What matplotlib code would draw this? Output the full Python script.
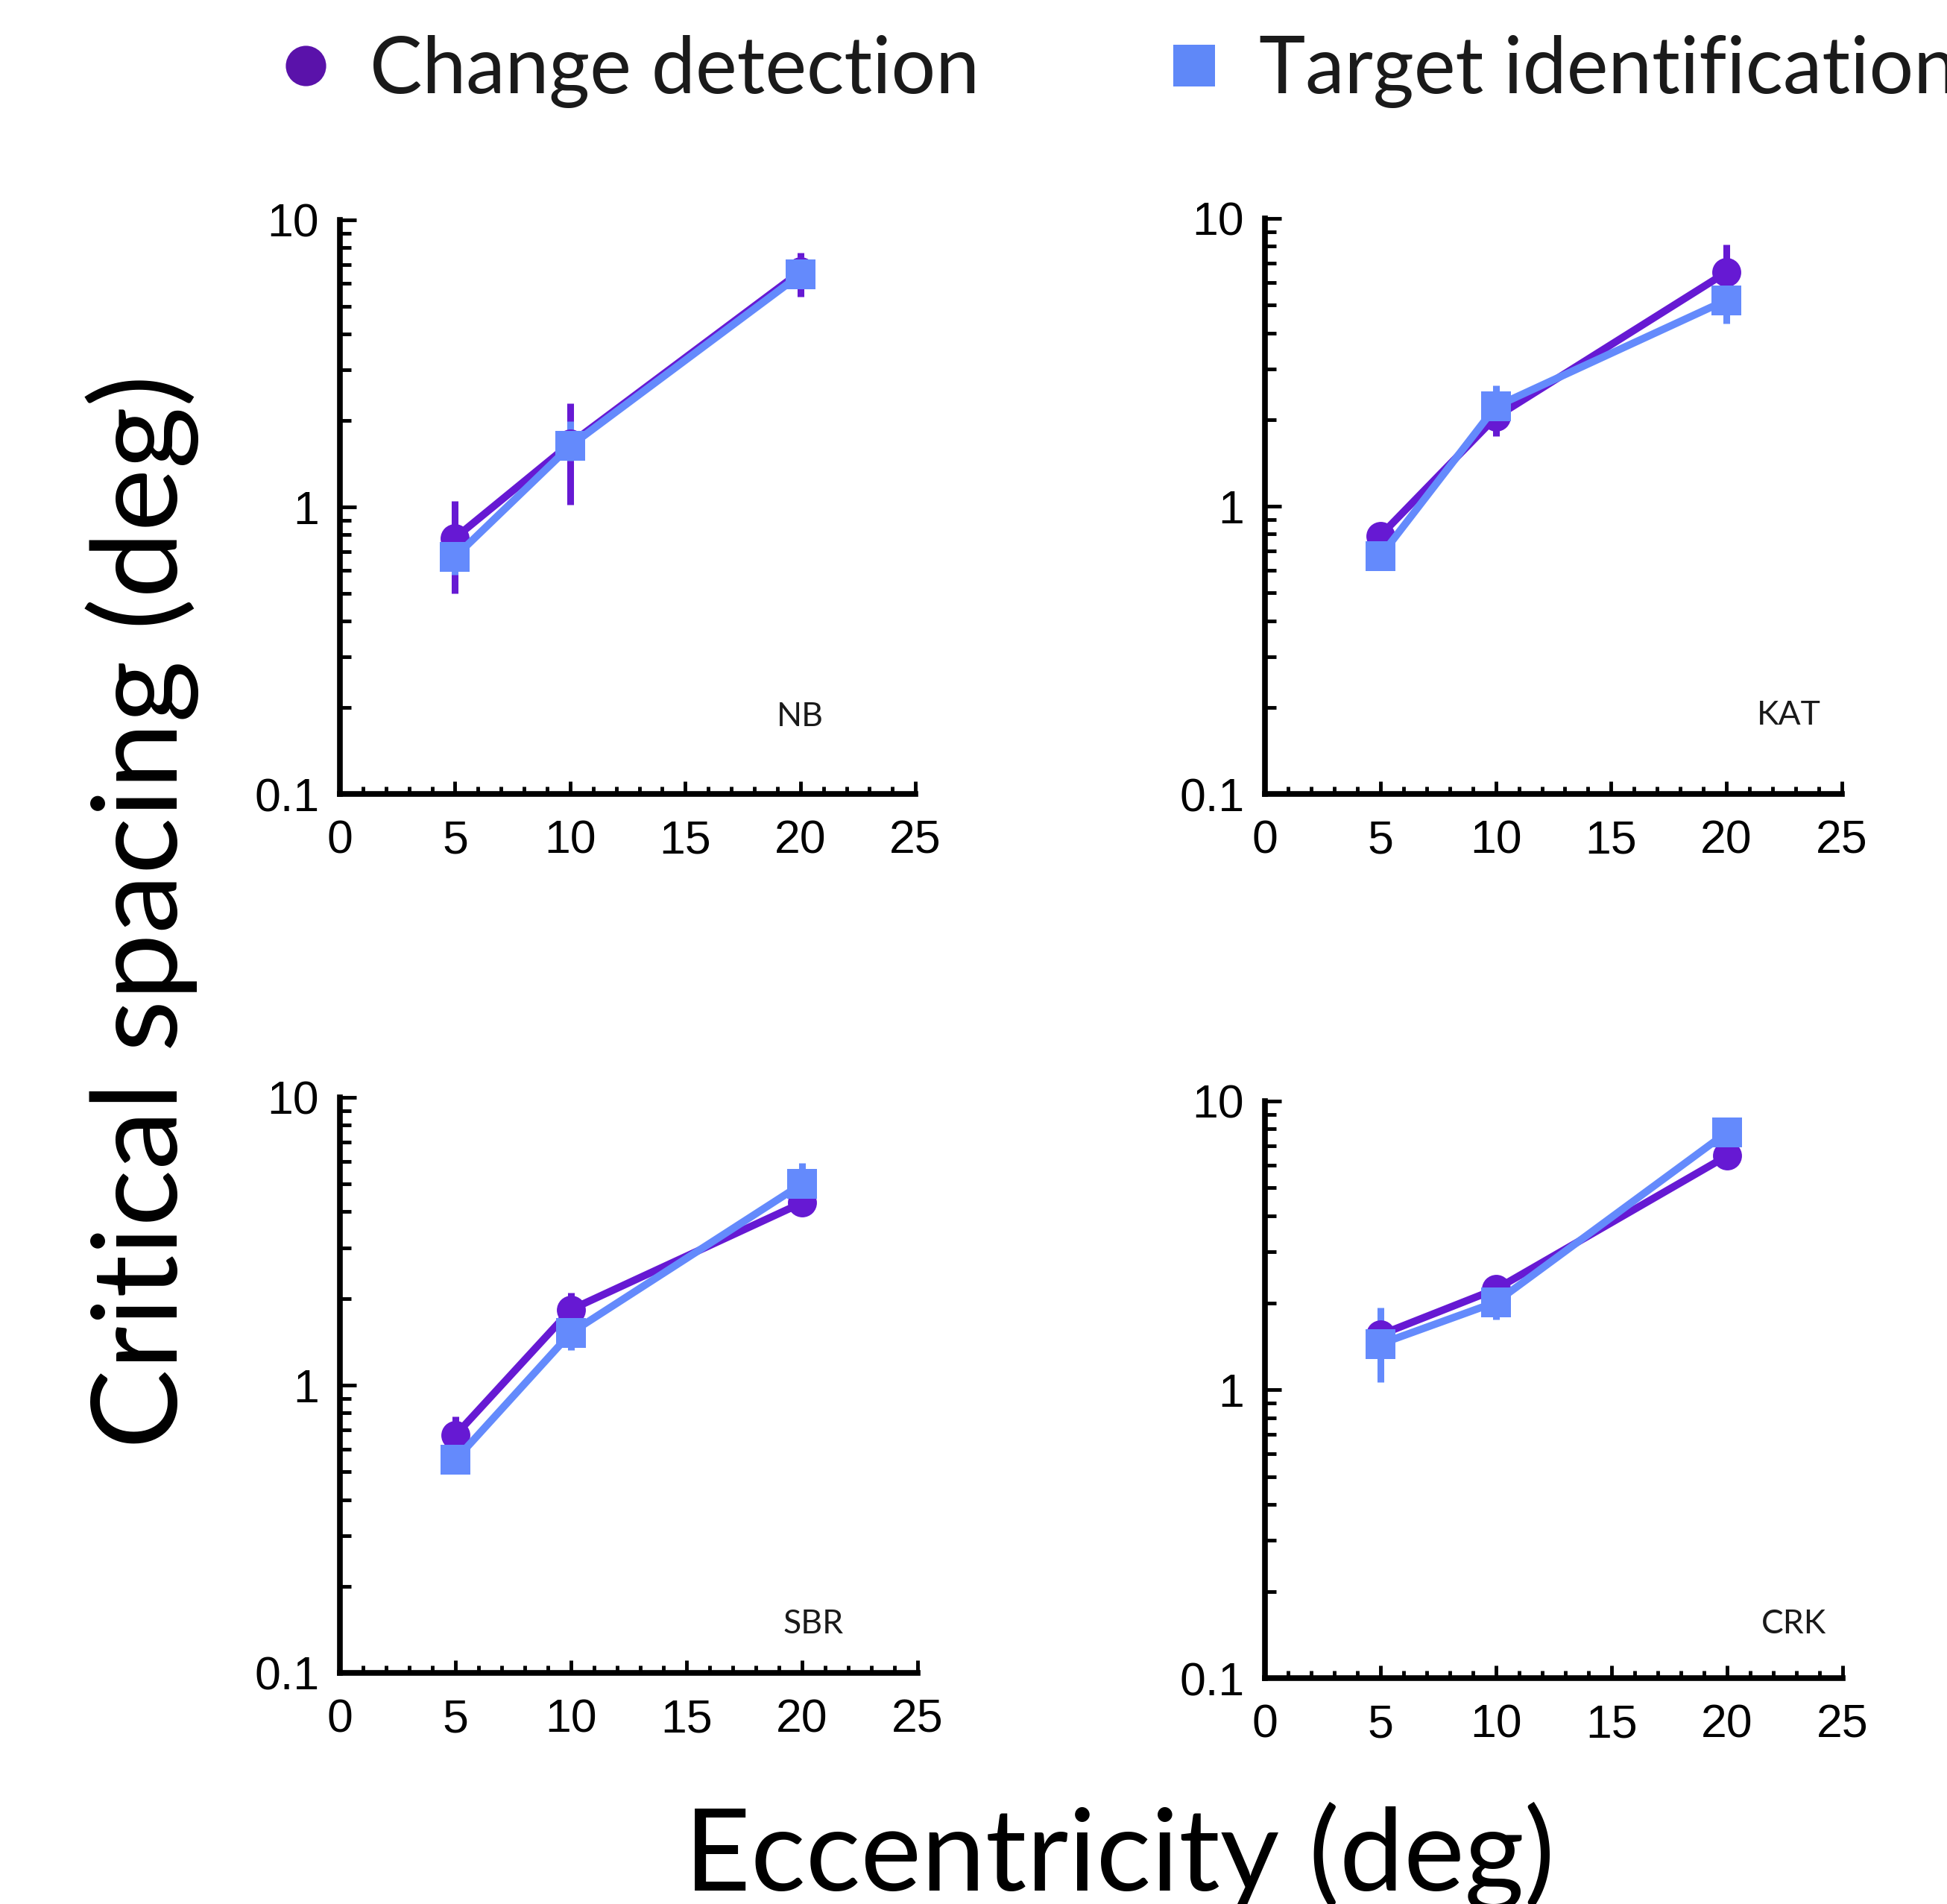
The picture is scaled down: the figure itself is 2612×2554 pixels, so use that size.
import matplotlib
matplotlib.use("Agg")
import matplotlib.pyplot as plt
from matplotlib.lines import Line2D
from matplotlib.ticker import FixedLocator, MultipleLocator, FixedFormatter

# eccentricity (deg)
ecc = [5, 10, 20]

# critical spacing (deg), per observer: mean, lower, upper
subjects = ["NB", "KAT", "SBR", "CRK"]

cd_mean = {
    "NB": [0.78, 1.66, 6.6],
    "KAT": [0.79, 2.04, 6.5],
    "SBR": [0.67, 1.83, 4.3],
    "CRK": [1.55, 2.23, 6.46],
}
cd_lo = {
    "NB": [0.50, 1.02, 5.4],
    "KAT": [0.74, 1.75, 5.8],
    "SBR": [0.60, 1.65, 4.1],
    "CRK": [1.45, 2.05, 6.1],
}
cd_hi = {
    "NB": [1.05, 2.30, 7.7],
    "KAT": [0.84, 2.30, 8.1],
    "SBR": [0.78, 2.10, 4.6],
    "CRK": [1.65, 2.46, 6.8],
}

ti_mean = {
    "NB": [0.67, 1.63, 6.45],
    "KAT": [0.67, 2.22, 5.2],
    "SBR": [0.55, 1.52, 5.0],
    "CRK": [1.44, 2.01, 7.8],
}
ti_lo = {
    "NB": [0.58, 1.45, 5.8],
    "KAT": [0.63, 1.95, 4.3],
    "SBR": [0.52, 1.32, 4.6],
    "CRK": [1.06, 1.75, 7.3],
}
ti_hi = {
    "NB": [0.78, 1.99, 7.4],
    "KAT": [0.71, 2.63, 6.0],
    "SBR": [0.58, 1.70, 5.9],
    "CRK": [1.92, 2.30, 8.3],
}

series_labels = ["Change detection", "Target identification"]
x_ticks = [0, 5, 10, 15, 20, 25]
y_ticks = [0.1, 1, 10]
y_ticklabels = ["0.1", "1", "10"]

PURPLE = "#6619d3"
BLUE = "#648afc"
LEG_PURPLE = "#5a12aa"
LEG_BLUE = "#5f88f8"
TEXT_FONT = ["Lato", "DejaVu Sans"]
TICK_FONT = ["Liberation Sans", "DejaVu Sans"]

fig = plt.figure(figsize=(26.12, 25.54), dpi=100)

# axes boxes in figure fraction (left, bottom, width, height)
boxes = [
    (0.1746, 0.5830, 0.2956, 0.3015),
    (0.6497, 0.5830, 0.2963, 0.3023),
    (0.1746, 0.1214, 0.2967, 0.3023),
    (0.6497, 0.1186, 0.2967, 0.3031),
]
label_pos = [(0.80, 0.135), (0.908, 0.137), (0.82, 0.085), (0.916, 0.094)]


def draw_series(ax, mean, lo, hi, color, marker, ms):
    yerr = [[m - l for m, l in zip(mean, lo)], [h - m for m, h in zip(mean, hi)]]
    ax.errorbar(ecc, mean, yerr=yerr, color=color, marker=marker,
                markersize=ms, linewidth=7.2, elinewidth=6.5, capsize=7.2,
                capthick=7, markeredgewidth=0)


for subj, box, lp in zip(subjects, boxes, label_pos):
    ax = fig.add_axes(box)
    draw_series(ax, cd_mean[subj], cd_lo[subj], cd_hi[subj], PURPLE, "o", 28)
    draw_series(ax, ti_mean[subj], ti_lo[subj], ti_hi[subj], BLUE, "s", 29)

    ax.set_yscale("log")
    ax.set_xlim(0, 25)
    ax.set_ylim(0.1, 10)
    ax.xaxis.set_major_locator(FixedLocator(x_ticks))
    ax.xaxis.set_minor_locator(MultipleLocator(1))
    ax.yaxis.set_major_locator(FixedLocator(y_ticks))
    ax.yaxis.set_major_formatter(FixedFormatter(y_ticklabels))
    ax.yaxis.set_minor_formatter(FixedFormatter([]))

    for side in ("top", "right"):
        ax.spines[side].set_visible(False)
    for side in ("left", "bottom"):
        ax.spines[side].set_linewidth(5.5)
    ax.tick_params(which="both", direction="in", width=3.5)
    ax.tick_params(axis="y", which="major", length=16, pad=20)
    ax.tick_params(axis="y", which="minor", length=11)
    ax.tick_params(axis="x", which="major", length=12, pad=24)
    ax.tick_params(axis="x", which="minor", length=7)
    for lab in ax.get_xticklabels() + ax.get_yticklabels():
        lab.set_fontfamily(TICK_FONT)
        lab.set_fontsize(45)
    ax.patch.set_visible(False)

    ax.text(lp[0], lp[1], subj, transform=ax.transAxes, ha="center",
            va="center", fontsize=32, family=TEXT_FONT, color="#1a1a1a")

handles = [
    Line2D([], [], color=LEG_PURPLE, marker="o", linestyle="none",
           markersize=39, markeredgewidth=0),
    Line2D([], [], color=LEG_BLUE, marker="s", linestyle="none",
           markersize=40, markeredgewidth=0),
]
fig.legend(handles, series_labels, loc="center left",
           bbox_to_anchor=(0.1447, 0.9625), ncol=2, frameon=False,
           prop={"family": TEXT_FONT, "size": 76}, handlelength=0.6,
           handletextpad=0.52, columnspacing=2.43, borderaxespad=0,
           borderpad=0, labelcolor="#1a1a1a")

fig.text(0.073, 0.5215, "Critical spacing (deg)", rotation=90, ha="center",
         va="center", fontsize=115, family=TEXT_FONT)
fig.text(0.575, 0.0071, "Eccentricity (deg)", ha="center", va="baseline",
         fontsize=111, family=TEXT_FONT)

fig.savefig("out.png", dpi=100)
